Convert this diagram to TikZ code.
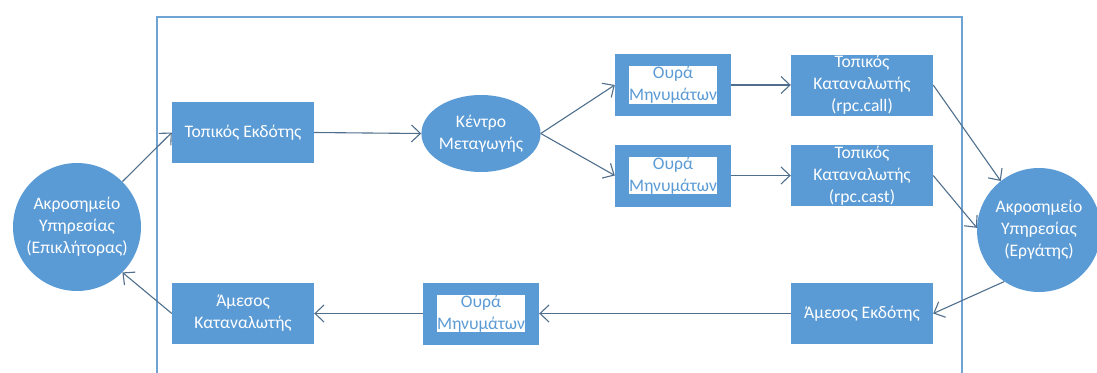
\documentclass[tikz,border=0pt]{standalone}
\usepackage{fontspec}
\setmainfont{Carlito}
\usetikzlibrary{arrows.meta,shapes.geometric}
\definecolor{fillblue}{HTML}{5B9BD5}
\definecolor{lineblue}{HTML}{4F6F8C}
\definecolor{frameblue}{HTML}{6FA3D3}
\tikzset{
  box/.style={draw=none, fill=fillblue, text=white, minimum width=142pt, minimum height=61pt,
              align=center, inner sep=0pt},
  queue/.style={draw=none, fill=fillblue, minimum width=116pt, minimum height=62pt, inner sep=0pt},
  queuein/.style={fill=white, text=fillblue, minimum width=88pt, minimum height=34pt,
                  align=center, inner sep=0pt},
  endpoint/.style={circle, fill=fillblue, text=white, minimum size=128pt, align=center, inner sep=0pt},
  hub/.style={ellipse, fill=fillblue, text=white, minimum width=116pt, minimum height=77pt,
              align=center, inner sep=0pt},
  conn/.style={draw=lineblue, line width=1.1pt, -{Straight Barb[length=9pt,width=17pt,line width=1.1pt]}},
  frame/.style={draw=frameblue, line width=1.6pt}
}
\begin{document}
\begin{tikzpicture}[x=1pt,y=-1pt,font=\fontsize{17.6}{22}\selectfont]
\useasboundingbox (0,0) rectangle (1097,372);
\begin{scope}
\clip (0,0) rectangle (1097,372);

% outer frame, open at the bottom
\draw[frame] (157,380) -- (157,17) -- (962,17) -- (962,380);

% caller side
\node[endpoint] (caller) at (77,227) {Ακροσημείο\\Υπηρεσίας\\(Επικλήτορας)};
\node[box] (pub) at (243,132.5) {Τοπικός Εκδότης};
\node[box] (dcons) at (243,313.5) {Άμεσος\\Καταναλωτής};

% exchange
\node[hub] (hub) at (481,133.5) {Κέντρο\\Μεταγωγής};

% queues
\node[queue] (q1) at (673,85) {};
\node[queuein] (q1t) at (q1.center) {Ουρά\\Μηνυμάτων};
\node[queue] (q2) at (673,175.5) {};
\node[queuein] (q2t) at (q2.center) {Ουρά\\Μηνυμάτων};
\node[queue] (q3) at (481,313.5) {};
\node[queuein] (q3t) at (q3.center) {Ουρά\\Μηνυμάτων};

% worker side
\node[box] (ccall) at (862,85) {Τοπικός\\Καταναλωτής\\(rpc.call)};
\node[box] (ccast) at (862,175.5) {Τοπικός\\Καταναλωτής\\(rpc.cast)};
\node[box] (dpub) at (862,313.5) {Άμεσος Εκδότης};
\node[endpoint, minimum size=124pt] (worker) at (1039,230) {Ακροσημείο\\Υπηρεσίας\\(Εργάτης)};

% message flow
\draw[conn] (caller.45) -- (pub.west);
\draw[conn] (pub.east) -- (hub.west);
\draw[conn] (hub.east) -- (q1.west);
\draw[conn] (hub.east) -- (q2.west);
\draw[conn] (q1.east) -- (ccall.west);
\draw[conn] (q2.east) -- (ccast.west);
\draw[conn] (ccall.east) -- (worker.128);
\draw[conn] (ccast.east) -- (worker.178);
\draw[conn] (worker.236) -- (dpub.east);
\draw[conn] (dpub.west) -- (q3.east);
\draw[conn] (q3.west) -- (dcons.east);
\draw[conn] (dcons.west) -- (caller.-45);
\end{scope}
\end{tikzpicture}
\end{document}
